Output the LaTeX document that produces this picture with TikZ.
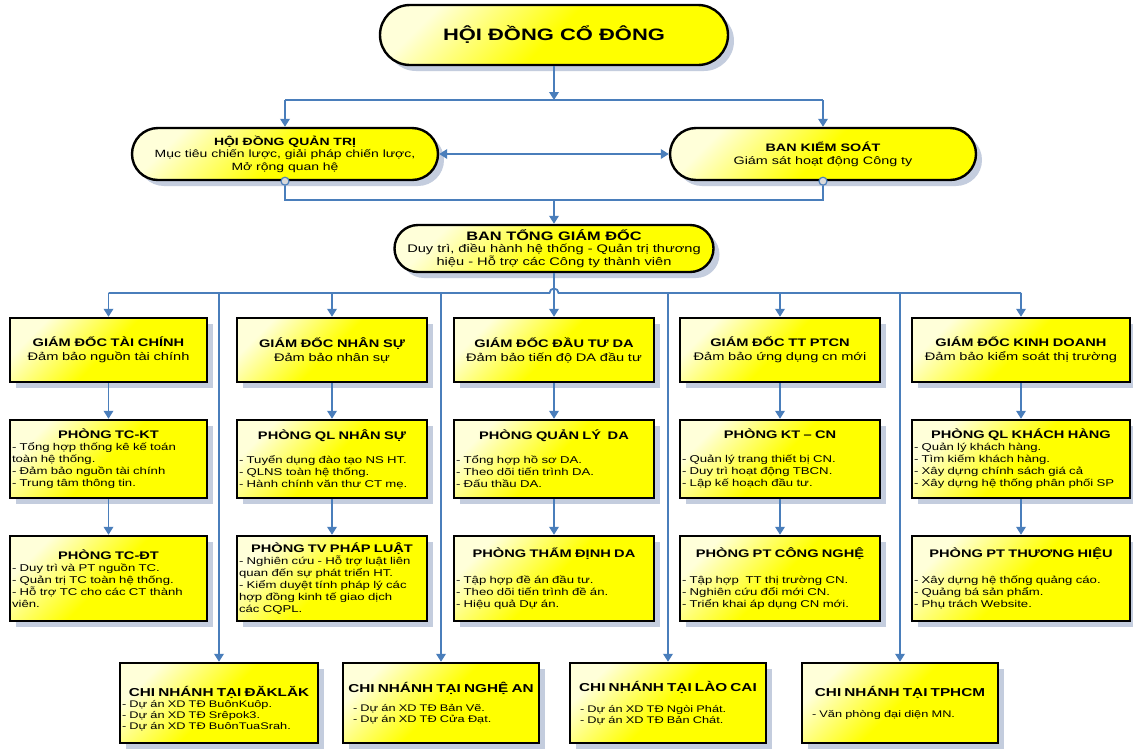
\documentclass[tikz,border=0pt]{standalone}
\usepackage{fontspec}
\setmainfont{Liberation Sans}[FakeStretch=1.33]
\usetikzlibrary{arrows.meta,shapes.misc,shadows}
\definecolor{conn}{RGB}{74,126,187}
\definecolor{shd}{RGB}{196,205,222}
\definecolor{yel}{RGB}{255,255,0}
\newcommand\ttlbox[2][11]{\makebox[\linewidth]{\fontsize{#1}{#1}\selectfont\bfseries #2}}
\tikzset{
  yfill/.style={top color=yel!15!white, bottom color=yel, middle color=yel, shading angle=45},
  shad/.style={drop shadow={shadow xshift=6pt, shadow yshift=-6pt, fill=shd, opacity=1}},
  pill/.style={rounded rectangle, draw=black, line width=2.4pt, yfill, shad, align=center, inner sep=2pt},
  gbox/.style={rectangle, draw=black, line width=2.4pt, yfill, shad, inner xsep=2pt, inner ysep=1pt},
  row1/.style={gbox, align=center, minimum height=64pt, font=\fontsize{11}{14}\selectfont},
  row2/.style={gbox, align=left, minimum height=78pt, font=\fontsize{9.9}{12}\selectfont},
  row3/.style={gbox, align=left, minimum height=85pt, font=\fontsize{9.9}{12}\selectfont},
  brn/.style={gbox, align=left, minimum height=80pt, font=\fontsize{9.6}{11}\selectfont},
  ln/.style={draw=conn, line width=1.8pt},
  arr/.style={ln, -{Triangle[length=8pt,width=9.5pt]}},
  darr/.style={ln, {Triangle[length=8pt,width=9.5pt]}-{Triangle[length=8pt,width=9.5pt]}},
  dot/.style={circle, draw=conn, line width=1.2pt, fill=gray!30, minimum size=8pt, inner sep=0pt}
}
\begin{document}
\begin{tikzpicture}[x=1pt,y=-1pt]
\fill[white] (0,0) rectangle (1133,748);
\useasboundingbox (0,0) rectangle (1133,748);

% top level
\node[pill, minimum width=352pt, minimum height=60pt, font=\fontsize{16.5}{20}\selectfont\bfseries] (hdcd) at (554,35) {HỘI ĐỒNG CỔ ĐÔNG};
\node[pill, minimum width=310pt, minimum height=52pt, font=\fontsize{10.5}{12.5}\selectfont] (hdqt) at (285,154)
  {\textbf{HỘI ĐỒNG QUẢN TRỊ}\\Mục tiêu chiến lược, giải pháp chiến lược,\\Mở rộng quan hệ};
\node[pill, minimum width=310pt, minimum height=52pt, font=\fontsize{10.8}{13}\selectfont] (bks) at (823,154)
  {\textbf{BAN KIỂM SOÁT}\\Giám sát hoạt động Công ty};
\node[pill, minimum width=323pt, minimum height=47pt, font=\fontsize{11}{12.5}\selectfont] (btg) at (554,248.5)
  {{\fontsize{12.3}{12.5}\selectfont\bfseries BAN TỔNG GIÁM ĐỐC}\\Duy trì, điều hành hệ thống - Quản trị thương\\hiệu - Hỗ trợ các Công ty thành viên};

\coordinate (tm) at (554,100);
\coordinate (t1) at (285,100);
\coordinate (t2) at (823,100);
\draw[arr] (hdcd.south) -- (tm);
\draw[ln] (t1) -- (t2);
\draw[arr] (t1) -- (hdqt.north);
\draw[arr] (t2) -- (bks.north);
\draw[darr] (hdqt.east) -- (bks.west);

\node[dot] (hdqtc) at (hdqt.south) {};
\node[dot] (bksc) at (bks.south) {};
\coordinate (j1) at (285,200);
\coordinate (j2) at (823,200);
\coordinate (jm) at (554,200);
\draw[ln] (hdqtc.south) -- (j1) -- (j2) -- (bksc.south);
\draw[arr] (jm) -- (btg.north);

% row 1
\node[row1, text width=193pt] (g1) at (108.5,350) {\textbf{GIÁM ĐỐC TÀI CHÍNH}\\Đảm bảo nguồn tài chính};
\node[row1, text width=186pt] (g2) at (332,350) {\textbf{GIÁM ĐỐC NHÂN SỰ}\\Đảm bảo nhân sự};
\node[row1, text width=196pt] (g3) at (554,350) {\textbf{GIÁM ĐỐC ĐẦU TƯ DA}\\Đảm bảo tiến độ DA đầu tư};
\node[row1, text width=196pt] (g4) at (780,350) {\textbf{GIÁM ĐỐC TT PTCN}\\Đảm bảo ứng dụng cn mới};
\node[row1, text width=214pt] (g5) at (1021,350) {\textbf{GIÁM ĐỐC KINH DOANH}\\Đảm bảo kiểm soát thị trường};

% row 2
\node[row2, text width=193pt] (p1) at (108.5,459) {\ttlbox{PHÒNG TC-KT}\\- Tổng hợp thống kê kế toán\\toàn hệ thống.\\- Đảm bảo nguồn tài chính\\- Trung tâm thông tin.};
\node[row2, text width=186pt] (p2) at (332,459) {\ttlbox{PHÒNG QL NHÂN SỰ}\\[12pt]- Tuyển dụng đào tạo NS HT.\\- QLNS toàn hệ thống.\\- Hành chính văn thư CT mẹ.};
\node[row2, text width=196pt] (p3) at (554,459) {\ttlbox{PHÒNG QUẢN LÝ~ DA}\\[12pt]- Tổng hợp hồ sơ DA.\\- Theo dõi tiến trình DA.\\- Đấu thầu DA.};
\node[row2, text width=196pt] (p4) at (780,459) {\ttlbox{PHÒNG KT – CN}\\[12pt]- Quản lý trang thiết bị CN.\\- Duy trì hoạt động TBCN.\\- Lập kế hoạch đầu tư.};
\node[row2, text width=214pt] (p5) at (1021,459) {\ttlbox{PHÒNG QL KHÁCH HÀNG}\\- Quản lý khách hàng.\\- Tìm kiếm khách hàng.\\- Xây dựng chính sách giá cả\\- Xây dựng hệ thống phân phối SP};

% row 3
\node[row3, text width=193pt] (q1) at (108.5,578.5) {\ttlbox{PHÒNG TC-ĐT}\\- Duy trì và PT nguồn TC.\\- Quản trị TC toàn hệ thống.\\- Hỗ trợ TC cho các CT thành\\viên.};
\node[row3, text width=186pt] (q2) at (332,578.5) {\ttlbox{PHÒNG TV PHÁP LUẬT}\\- Nghiên cứu - Hỗ trợ luật liên\\quan đến sự phát triển HT.\\- Kiểm duyệt tính pháp lý các\\hợp đồng kinh tế giao dịch\\các CQPL.};
\node[row3, text width=196pt] (q3) at (554,578.5) {\ttlbox{PHÒNG THẨM ĐỊNH DA}\\[14pt]- Tập hợp đề án đầu tư.\\- Theo dõi tiến trình đề án.\\- Hiệu quả Dự án.};
\node[row3, text width=196pt] (q4) at (780,578.5) {\ttlbox{PHÒNG PT CÔNG NGHỆ}\\[14pt]- Tập hợp~ TT thị trường CN.\\- Nghiên cứu đổi mới CN.\\- Triển khai áp dụng CN mới.};
\node[row3, text width=214pt] (q5) at (1021,578.5) {\ttlbox{PHÒNG PT THƯƠNG HIỆU}\\[14pt]- Xây dựng hệ thống quảng cáo.\\- Quảng bá sản phẩm.\\- Phụ trách Website.};

% branches
\node[brn, text width=194pt] (b1) at (219,703) {\rule{0pt}{22pt}\ttlbox[11.5]{CHI NHÁNH TẠI ĐĂKLĂK}\\- Dự án XD TĐ BuônKuôp.\\- Dự án XD TĐ Srêpok3.\\- Dự án XD TĐ BuônTuaSrah.};
\node[brn, text width=192pt] (b2) at (441,703) {\ttlbox[11.5]{CHI NHÁNH TẠI NGHỆ AN}\\[8pt]\hspace*{8pt}- Dự án XD TĐ Bản Vẽ.\\\hspace*{8pt}- Dự án XD TĐ Cửa Đạt.};
\node[brn, text width=192pt] (b3) at (668,703) {\ttlbox[11.5]{CHI NHÁNH TẠI LÀO CAI}\\[10pt]\hspace*{8pt}- Dự án XD TĐ Ngòi Phát.\\\hspace*{8pt}- Dự án XD TĐ Bản Chát.};
\node[brn, text width=192pt] (b4) at (900,703) {\ttlbox[11.5]{CHI NHÁNH TẠI TPHCM}\\[10pt]\hspace*{8pt}- Văn phòng đại diện MN.};

% bus
\coordinate (bL) at (108.5,293);
\coordinate (bR) at (1021,293);
\coordinate (hopL) at (549.5,293);
\coordinate (c2) at (332,293);
\coordinate (c4) at (780,293);
\coordinate (v1) at (219,293);
\coordinate (v2) at (441,293);
\coordinate (v3) at (668,293);
\coordinate (v4) at (900,293);
\draw[ln] (bL) -- (hopL) arc[start angle=180, end angle=360, radius=4.5] -- (bR);
\draw[arr] (btg.south) -- (g3.north);
\draw[arr] (bL) -- (g1.north);
\draw[arr] (c2) -- (g2.north);
\draw[arr] (c4) -- (g4.north);
\draw[arr] (bR) -- (g5.north);
\draw[arr] (v1) -- (b1.north);
\draw[arr] (v2) -- (b2.north);
\draw[arr] (v3) -- (b3.north);
\draw[arr] (v4) -- (b4.north);

% column arrows
\draw[arr] (g1.south) -- (p1.north);
\draw[arr] (g2.south) -- (p2.north);
\draw[arr] (g3.south) -- (p3.north);
\draw[arr] (g4.south) -- (p4.north);
\draw[arr] (g5.south) -- (p5.north);
\draw[arr] (p1.south) -- (q1.north);
\draw[arr] (p2.south) -- (q2.north);
\draw[arr] (p3.south) -- (q3.north);
\draw[arr] (p4.south) -- (q4.north);
\draw[arr] (p5.south) -- (q5.north);
\end{tikzpicture}
\end{document}
